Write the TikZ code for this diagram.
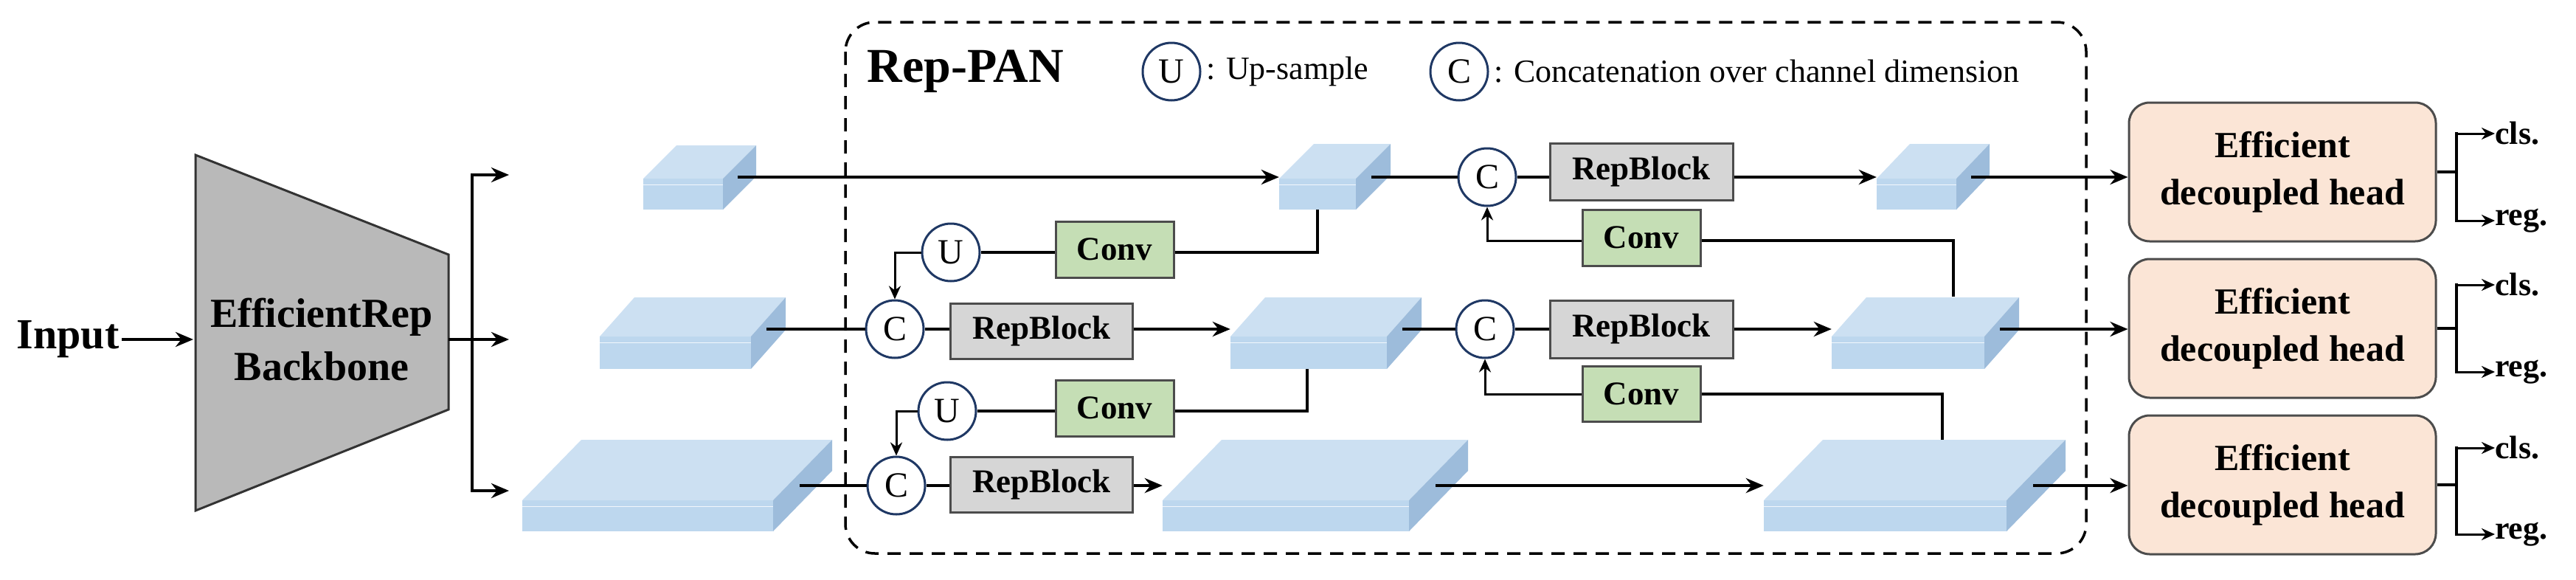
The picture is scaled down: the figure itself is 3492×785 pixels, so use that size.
\documentclass[tikz,border=0pt]{standalone}
\usepackage{fontspec}
\setmainfont{Liberation Serif}
\usetikzlibrary{arrows.meta,positioning}
\definecolor{cfront}{HTML}{BDD7EE}
\definecolor{ctop}{HTML}{CCE0F2}
\definecolor{cside}{HTML}{9DBCDB}
\definecolor{cgreen}{HTML}{C5DEB5}
\definecolor{cgray}{HTML}{D6D6D6}
\definecolor{chead}{HTML}{FBE5D6}
\definecolor{cnavy}{HTML}{1F3864}
\tikzset{
  ln/.style={line width=4pt},
  ar/.style={line width=4pt,-{Stealth[length=24pt,width=20pt]}},
  arh/.style={line width=3pt,-{Stealth[length=18pt,width=16pt]}},
  op/.style={circle,draw=cnavy,line width=3pt,fill=white,minimum size=78pt,inner sep=0pt,font=\fontsize{48}{48}\selectfont},
  blk/.style={draw=black!70,line width=3pt,fill=#1,inner sep=0pt,font=\bfseries\fontsize{45}{45}\selectfont},
  head/.style={draw=black!70,line width=3pt,fill=chead,rounded corners=28pt,minimum width=416pt,minimum height=188pt,align=center,font=\bfseries\fontsize{50}{64}\selectfont},
  outtxt/.style={anchor=west,inner sep=0pt,font=\bfseries\fontsize{44}{44}\selectfont},
  legtxt/.style={anchor=west,inner sep=0pt,font=\fontsize{44}{44}\selectfont},
}
% \mycube{name}{x1}{x2}{ytop}{ybot}{dx}{dy}{line y}
\newcommand{\mycube}[8]{%
  \fill[cfront] (#2,#4) rectangle (#3,#5);
  \fill[ctop] (#2,#4) -- ++(#6,-#7) -- (#3+#6,#4-#7) -- (#3,#4) -- cycle;
  \fill[cside] (#3,#4) -- (#3+#6,#4-#7) -- (#3+#6,#5-#7) -- (#3,#5) -- cycle;
  \draw[white!80!cfront,line width=1pt] (#2,#4+8) -- (#3,#4+8);
  \node[inner sep=0pt,minimum width=#3pt-#2pt,minimum height=#5pt-#4pt] (#1) at ({(#2+#3)/2},{(#4+#5)/2}) {};
  \coordinate (#1-o) at (#3+#6*0.45,#8);
}
\begin{document}
\begin{tikzpicture}[x=1pt,y=-1pt]
\useasboundingbox (0,0) rectangle (3492,785);
\draw[line width=3.5pt,dash pattern=on 18pt off 12pt,rounded corners=40pt] (1146,30) rectangle (2828,750);
\node[anchor=west,font=\bfseries\fontsize{66}{66}\selectfont] (rp) at (1172,97) {Rep-PAN};
\node[op] (lu) at (1588,97) {U};
\node[legtxt] (lut) at (1635,97) {: Up-sample};
\node[op] (lc) at (1978,97) {C};
\node[legtxt] (lct) at (2025,97) {: Concatenation over channel dimension};

\node[anchor=east,font=\bfseries\fontsize{58}{58}\selectfont] (in) at (165,460) {Input};
\fill[gray!55] (265,210) -- (608,345) -- (608,555) -- (265,692) -- cycle;
\draw[line width=3pt,black!80] (265,210) -- (608,345) -- (608,555) -- (265,692) -- cycle;
\node[font=\bfseries\fontsize{56}{72}\selectfont,align=center] (bb) at (436,460) {EfficientRep\\Backbone};
\coordinate (bbin) at (262,460);
\coordinate (bbout) at (608,460);
\draw[ar] (in) -- (bbin);
\coordinate (br1) at (690,237);
\coordinate (br2) at (690,460);
\coordinate (br3) at (690,665);
\draw[ln] (bbout) -- (640,460);
\draw[ar] (640,237) -- (br1);
\draw[ar] (640,460) -- (br2);
\draw[ar] (640,665) -- (br3);
\draw[ln] (640,235) -- (640,667);

\mycube{t1}{872}{980}{242}{284}{45}{45}{240}
\mycube{t2}{1734}{1838}{242}{284}{47}{47}{240}
\mycube{t3}{2544}{2652}{242}{284}{45}{47}{240}
\mycube{m1}{813}{1018}{456}{500}{47}{53}{446}
\mycube{m2}{1668}{1880}{456}{500}{47}{53}{446}
\mycube{m3}{2483}{2690}{456}{500}{47}{53}{446}
\mycube{b1}{708}{1048}{678}{720}{80}{82}{658}
\mycube{b2}{1576}{1910}{678}{720}{80}{82}{658}
\mycube{b3}{2391}{2720}{678}{720}{80}{82}{658}

\node[op] (c1) at (2016,240) {C};
\node[op] (c2a) at (1213,446) {C};
\node[op] (c2b) at (2013,446) {C};
\node[op] (c3) at (1215,658) {C};
\node[op] (u1) at (1289,342) {U};
\node[op] (u2) at (1284,557) {U};

\node[blk=cgray,minimum width=248pt,minimum height=77pt] (r1) at (2225,233) {RepBlock};
\node[blk=cgray,minimum width=247pt,minimum height=75pt] (r2a) at (1412,449) {RepBlock};
\node[blk=cgray,minimum width=248pt,minimum height=78pt] (r2b) at (2225,446) {RepBlock};
\node[blk=cgray,minimum width=247pt,minimum height=75pt] (r3) at (1412,657) {RepBlock};
\node[blk=cgreen,minimum width=160pt,minimum height=76pt] (k1) at (1511,338) {Conv};
\node[blk=cgreen,minimum width=160pt,minimum height=76pt] (k2) at (1511,553) {Conv};
\node[blk=cgreen,minimum width=160pt,minimum height=76pt] (k3) at (2225,322) {Conv};
\node[blk=cgreen,minimum width=160pt,minimum height=75pt] (k4) at (2225,534) {Conv};

\node[head] (h1) at (3094,233) {Efficient\\decoupled head};
\node[head] (h2) at (3094,445) {Efficient\\decoupled head};
\node[head] (h3) at (3094,657) {Efficient\\decoupled head};

\draw[ar] (t1-o) -- (t2.west |- t1-o);
\draw[ln] (t2-o) -- (c1);
\draw[ln] (c1) -- (r1.west |- c1);
\draw[ar] (r1.east |- c1) -- (t3.west |- c1);
\draw[ar] (t3-o) -- (h1.west |- t3-o);
\draw[ln] (m1-o) -- (c2a);
\draw[ln] (c2a) -- (r2a.west |- c2a);
\draw[ar] (r2a.east |- c2a) -- (m2.west |- c2a);
\draw[ln] (m2-o) -- (c2b);
\draw[ln] (c2b) -- (r2b.west |- c2b);
\draw[ar] (r2b.east |- c2b) -- (m3.west |- c2b);
\draw[ar] (m3-o) -- (h2.west |- m3-o);
\draw[ln] (b1-o) -- (c3);
\draw[ln] (c3) -- (r3.west |- c3);
\draw[ar] (r3.east |- c3) -- (b2.west |- c3);
\draw[ar] (b2-o) -- (b3.west |- c3);
\draw[ar] (b3-o) -- (h3.west |- b3-o);

\draw[ln] (1786,284) |- (k1.east |- u1);
\draw[ln] (k1.west |- u1) -- (u1);
\draw[arh] (u1.west) -| (c2a.north);
\draw[ln] (1772,500) |- (k2.east |- u2);
\draw[ln] (k2.west |- u2) -- (u2);
\draw[arh] (u2.west) -| (c3.north);
\draw[ln] (2648,402) |- (k3.east |- 0,326);
\draw[arh] (k3.west |- 0,326) -| (c1.south);
\draw[ln] (2633,596) |- (k4.east |- 0,534);
\draw[arh] (k4.west |- 0,534) -| (c2b.south);

\foreach \h/\ym/\yc/\yr/\n in {h1/233/181/299/1,h2/445/386/504/2,h3/657/607/724/3}{
  \coordinate (oc\n) at (3382,\yc);
  \coordinate (or\n) at (3382,\yr);
  \draw[ln] (\h.east) -- (3330,\ym);
  \draw[arh] (3330,\yc) -- (oc\n);
  \draw[arh] (3330,\yr) -- (or\n);
  \draw[ln] (3330,\yc-2) -- (3330,\yr+2);
  \node[outtxt] (cl\n) at (oc\n) {cls.};
  \node[outtxt] (rg\n) at (or\n) {reg.};
}
\end{tikzpicture}
\end{document}
